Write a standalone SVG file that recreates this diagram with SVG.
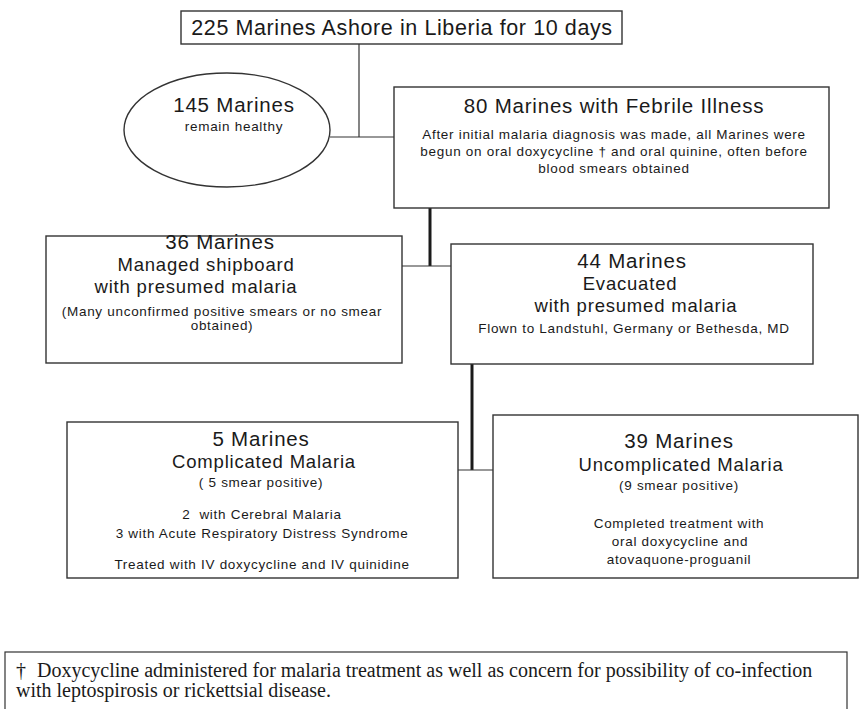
<svg xmlns="http://www.w3.org/2000/svg" width="860" height="709" viewBox="0 0 860 709">
<style>
.box{fill:#fff;stroke:#333;stroke-width:1.4}
.t{font-family:"Liberation Sans",Arial,sans-serif;fill:#1a1a1a;text-anchor:middle}
.h{font-size:20.5px;letter-spacing:0.8px}
.m{font-size:18.5px;letter-spacing:0.8px}
.s{font-size:13.5px;letter-spacing:0.7px}
.ln{stroke:#333;stroke-width:1.2;fill:none}
.thick{stroke:#1a1a1a;stroke-width:3;fill:none}
.fn{font-family:"Liberation Serif","Times New Roman",serif;font-size:20px;fill:#1a1a1a}
</style>
<rect width="860" height="709" fill="#fff"/>
<g id="connectors">
<line class="ln" x1="359" y1="44" x2="359" y2="137"/>
<line class="ln" x1="330" y1="137" x2="394" y2="137"/>
<line class="thick" x1="430" y1="208" x2="430" y2="266"/>
<line class="ln" x1="402" y1="266" x2="451" y2="266"/>
<line class="thick" x1="472" y1="364" x2="472" y2="470"/>
<line class="ln" x1="458" y1="470" x2="493" y2="470"/>
</g>
<g id="top">
<rect class="box" x="181" y="11" width="441" height="33"/>
<text class="t" x="402" y="35" font-size="21.5" letter-spacing="0.6">225 Marines Ashore in Liberia for 10 days</text>
</g>
<g id="healthy">
<ellipse class="box" cx="227" cy="130" rx="103" ry="57" stroke-width="1"/>
<text class="t h" x="234" y="112">145 Marines</text>
<text class="t s" x="234" y="131">remain healthy</text>
</g>
<g id="febrile">
<rect class="box" x="394" y="87" width="435" height="121"/>
<text class="t h" x="614" y="113">80 Marines with Febrile Illness</text>
<text class="t s" x="614" y="139">After initial malaria diagnosis was made, all Marines were</text>
<text class="t s" x="614" y="156">begun on oral doxycycline † and oral quinine, often before</text>
<text class="t s" x="614" y="173">blood smears obtained</text>
</g>
<g id="shipboard">
<rect class="box" x="46" y="236" width="356" height="127"/>
<text class="t h" x="220" y="249">36 Marines</text>
<text class="t m" x="206" y="271">Managed shipboard</text>
<text class="t m" x="196" y="293">with presumed malaria</text>
<text class="t s" x="222" y="316">(Many unconfirmed positive smears or no smear</text>
<text class="t s" x="222" y="330">obtained)</text>
</g>
<g id="evacuated">
<rect class="box" x="451" y="244" width="362" height="120" stroke="#666"/>
<text class="t h" x="632" y="268">44 Marines</text>
<text class="t m" x="630" y="290">Evacuated</text>
<text class="t m" x="636" y="312">with presumed malaria</text>
<text class="t s" x="634" y="333">Flown to Landstuhl, Germany or Bethesda, MD</text>
</g>
<g id="complicated">
<rect class="box" x="67" y="422" width="391" height="156" stroke="#666"/>
<text class="t h" x="261" y="446">5 Marines</text>
<text class="t m" x="264" y="468">Complicated Malaria</text>
<text class="t s" x="261" y="487">( 5 smear positive)</text>
<text class="t s" x="262" y="519" xml:space="preserve">2  with Cerebral Malaria</text>
<text class="t s" x="262" y="538">3 with Acute Respiratory Distress Syndrome</text>
<text class="t s" x="262" y="569">Treated with IV doxycycline and IV quinidine</text>
</g>
<g id="uncomplicated">
<rect class="box" x="493" y="415" width="365" height="163" stroke="#666"/>
<text class="t h" x="679" y="448">39 Marines</text>
<text class="t m" x="681" y="471">Uncomplicated Malaria</text>
<text class="t s" x="679" y="490">(9 smear positive)</text>
<text class="t s" x="679" y="528">Completed treatment with</text>
<text class="t s" x="680" y="546">oral doxycycline and</text>
<text class="t s" x="679" y="564">atovaquone-proguanil</text>
</g>
<g id="footnote">
<rect x="5" y="652" width="842" height="70" fill="#fff" stroke="#333" stroke-width="1.2"/>
<text class="fn" x="16" y="677">†<tspan x="37">Doxycycline administered for malaria treatment as well as concern for possibility of co-infection</tspan></text>
<text class="fn" x="16" y="697">with leptospirosis or rickettsial disease.</text>
</g>
</svg>
